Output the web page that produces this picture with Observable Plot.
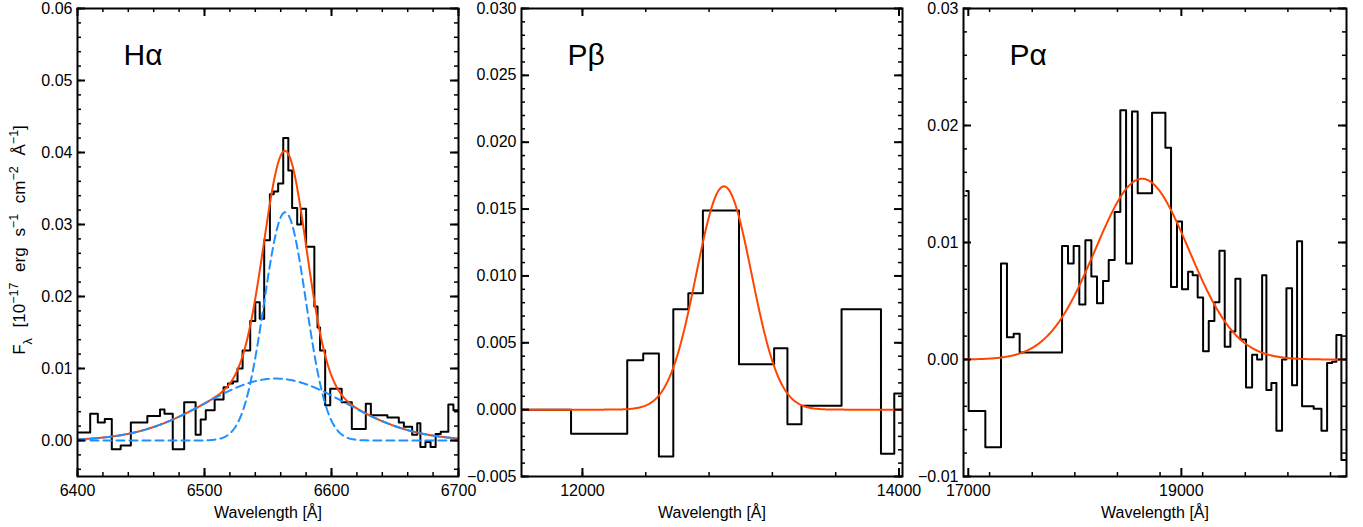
<!DOCTYPE html>
<html><head><meta charset="utf-8">
<script src="https://cdn.jsdelivr.net/npm/d3@7"></script>
<script src="https://cdn.jsdelivr.net/npm/@observablehq/plot@0.6"></script>
<style>
body{margin:0;background:#fff;}
#wrap{position:relative;width:1363px;height:527px;}
#wrap svg{position:absolute;top:0;}
</style></head><body><div id="wrap"></div>
<script>
// ---------------- data ----------------
// H-alpha panel: histogram bin edges (Å) and flux values
const haEdges = [6401, 6410, 6416, 6421.5, 6427, 6434, 6442, 6455, 6465, 6468.5, 6475, 6484, 6493, 6497, 6501, 6508, 6515, 6518.5, 6522.5, 6526, 6530, 6536, 6540, 6543.5, 6547, 6551.5, 6554.5, 6558, 6562, 6566, 6569, 6573, 6576, 6580, 6586.5, 6589, 6591, 6595, 6599, 6608, 6616, 6627, 6631, 6644, 6653, 6657, 6663.5, 6667.5, 6670, 6674, 6678, 6682, 6686, 6692, 6696, 6700];
const haFlux = [0.0011, 0.0037, 0.0025, 0.0030, -0.0012, -0.0007, 0.0025, 0.0034, 0.0043, 0.0037, -0.0012, 0.0053, 0.0008, 0.0029, 0.0042, 0.0057, 0.0074, 0.0079, 0.0082, 0.0100, 0.0125, 0.0166, 0.0192, 0.0169, 0.0278, 0.0342, 0.0346, 0.0357, 0.0420, 0.0375, 0.0323, 0.0300, 0.0322, 0.0269, 0.0186, 0.0157, 0.0125, 0.0049, 0.0072, 0.0053, 0.0016, 0.0051, 0.0035, 0.0032, 0.0025, 0.0019, 0.0008, 0.0024, -0.0009, -0.0002, -0.0009, 0.0009, 0.0012, 0.0050, 0.0042];
// H-alpha Gaussian fit components (narrow, broad)
const haFitCenter = [6563.5, 6556];
const haFitAmp = [0.0317, 0.0086];
const haFitSigma = [16.5, 55];

// P-beta panel
const pbEdges = [11618, 11928, 12283, 12384, 12483, 12574, 12669, 12761, 12989, 13211, 13295, 13384, 13637, 13886, 13970, 14023];
const pbFlux = [0.0000, -0.0018, 0.0037, 0.0042, -0.0035, 0.0075, 0.0087, 0.0149, 0.0034, 0.0046, -0.0011, 0.0003, 0.0075, -0.0033, 0.0012];
const pbFitCenter = [12894];
const pbFitAmp = [0.0167];
const pbFitSigma = [175];

// P-alpha panel
const paEdges = [16981, 17003, 17160, 17307, 17363, 17426, 17482, 17880, 17936, 17989, 18042, 18099, 18155, 18208, 18265, 18318, 18374, 18427, 18481, 18537, 18590, 18725, 18850, 18903, 18959, 19006, 19063, 19106, 19153, 19204, 19257, 19310, 19357, 19407, 19460, 19507, 19554, 19607, 19664, 19711, 19758, 19798, 19845, 19892, 19945, 19986, 20039, 20086, 20133, 20242, 20315, 20368, 20415, 20455, 20502, 20540];
const paFlux = [0.0144, -0.0044, -0.0075, 0.0082, 0.0019, 0.0022, 0.0006, 0.0097, 0.0082, 0.0097, 0.0047, 0.0102, 0.0071, 0.0048, 0.0067, 0.0085, 0.0126, 0.0213, 0.0082, 0.0212, 0.0142, 0.0211, 0.0181, 0.0062, 0.0118, 0.0060, 0.0075, 0.0072, 0.0053, 0.0007, 0.0033, 0.0049, 0.0093, 0.0011, 0.0024, 0.0069, 0.0017, -0.0024, 0.0004, 0.0000, 0.0072, -0.0026, -0.0020, -0.0061, 0.0000, 0.0061, -0.0022, 0.0101, -0.0040, -0.0042, -0.0061, -0.0003, -0.0002, 0.0021, -0.0086];
const paFitCenter = [18631];
const paFitAmp = [0.01545];
const paFitSigma = [440];

// axis tick labels
const haXTicks = [6400, 6500, 6600, 6700];
const haYTicks = [0.00, 0.01, 0.02, 0.03, 0.04, 0.05, 0.06];
const pbXTicks = [12000, 14000];
const pbYTicks = [-0.005, 0.000, 0.005, 0.010, 0.015, 0.020, 0.025, 0.030];
const paXTicks = [17000, 19000];
const paYTicks = [-0.01, 0.00, 0.01, 0.02, 0.03];

const panelLabels = ["H\u03b1", "P\u03b2", "P\u03b1"];
const xTitle = "Wavelength [\u00c5]";

// ---------------- drawing ----------------
const FONT = '"Liberation Sans", Arial, Helvetica, sans-serif';
const H = 527, MT = 8, MB = 51, FH = H - MT - MB;
const ORANGE = "#ff4500", BLUE = "#1e90ff";

function steps(edges, flux) {
  return edges.map((e, i) => ({x: e, y: flux[Math.min(i, flux.length - 1)]}));
}
function gaussCurve(domain, centers, amps, sigmas, idx) {
  const n = 500, out = [];
  for (let i = 0; i <= n; i++) {
    const x = domain[0] + (domain[1] - domain[0]) * i / n;
    let y = 0;
    for (const k of idx) y += amps[k] * Math.exp(-((x - centers[k]) ** 2) / (2 * sigmas[k] ** 2));
    out.push({x, y});
  }
  return out;
}
function minorTicks(domain, step) {
  const lo = Math.ceil(domain[0] / step - 1e-6), hi = Math.floor(domain[1] / step + 1e-6);
  return d3.range(lo, hi + 1).map(k => +(k * step).toFixed(6));
}

function panel(o) {
  const fw = o.width - o.ml - o.mr;
  const tm = [];
  const xMin = minorTicks(o.xDomain, o.xStep), yMin = minorTicks(o.yDomain, o.yStep);
  for (const [vals, len, sw] of [[o.xTicks, 8, 2], [xMin, 4, 1.5]]) {
    tm.push(Plot.tickX(vals, {x: d => d, insetTop: FH - len, stroke: "black", strokeWidth: sw}));
    tm.push(Plot.tickX(vals, {x: d => d, insetBottom: FH - len, stroke: "black", strokeWidth: sw}));
  }
  for (const [vals, len, sw] of [[o.yTicks, 8, 2], [yMin, 4, 1.5]]) {
    tm.push(Plot.tickY(vals, {y: d => d, insetRight: fw - len, stroke: "black", strokeWidth: sw}));
    tm.push(Plot.tickY(vals, {y: d => d, insetLeft: fw - len, stroke: "black", strokeWidth: sw}));
  }
  const svg = Plot.plot({
    width: o.width, height: H,
    marginLeft: o.ml, marginRight: o.mr, marginTop: MT, marginBottom: MB,
    x: {domain: o.xDomain, label: null},
    y: {domain: o.yDomain, label: null},
    style: {fontFamily: FONT, fontSize: "16px", color: "black", background: "transparent", overflow: "visible"},
    marks: [
      ...o.marks,
      ...tm,
      Plot.frame({stroke: "black", strokeWidth: 2}),
      Plot.axisX(o.xTicks, {anchor: "bottom", tickSize: 0, tickPadding: 8, tickFormat: d => String(d), label: null, fontSize: 16}),
      Plot.axisY(o.yTicks, {anchor: "left", tickSize: 0, tickPadding: 5, tickFormat: o.yFmt, label: null, fontSize: 16}),
      Plot.text([o.label], {text: d => d, frameAnchor: "top-left", dx: 46, dy: 35, lineAnchor: "top", textAnchor: "start", fontSize: 30}),
      Plot.text([xTitle], {text: d => d, frameAnchor: "bottom", dy: 36, lineAnchor: "middle", fontSize: 16})
    ]
  });
  svg.style.left = o.left + "px";
  return svg;
}

const wrap = document.getElementById("wrap");
const lineOpts = {x: "x", y: "y", clip: true};

const haDom = [6400, 6700];
wrap.appendChild(panel({
  left: 0, width: 460, ml: 77, mr: 2,
  xDomain: haDom, yDomain: [-0.005, 0.06], xTicks: haXTicks, yTicks: haYTicks,
  xStep: 20, yStep: 0.002, yFmt: d3.format(".2f"), label: panelLabels[0],
  marks: [
    Plot.line(steps(haEdges, haFlux), {...lineOpts, curve: "step-after", stroke: "black", strokeWidth: 2}),
    Plot.line(gaussCurve(haDom, haFitCenter, haFitAmp, haFitSigma, [0, 1]), {...lineOpts, stroke: ORANGE, strokeWidth: 2}),
    Plot.line(gaussCurve(haDom, haFitCenter, haFitAmp, haFitSigma, [0]), {...lineOpts, stroke: BLUE, strokeWidth: 2, strokeDasharray: "8,5"}),
    Plot.line(gaussCurve(haDom, haFitCenter, haFitAmp, haFitSigma, [1]), {...lineOpts, stroke: BLUE, strokeWidth: 2, strokeDasharray: "8,5"})
  ]
}));

const pbDom = [11615, 14022];
wrap.appendChild(panel({
  left: 460, width: 445, ml: 61, mr: 3,
  xDomain: pbDom, yDomain: [-0.005, 0.03], xTicks: pbXTicks, yTicks: pbYTicks,
  xStep: 400, yStep: 0.001, yFmt: d3.format(".3f"), label: panelLabels[1],
  marks: [
    Plot.line(steps(pbEdges, pbFlux), {...lineOpts, curve: "step-after", stroke: "black", strokeWidth: 2}),
    Plot.line(gaussCurve(pbDom, pbFitCenter, pbFitAmp, pbFitSigma, [0]), {...lineOpts, stroke: ORANGE, strokeWidth: 2})
  ]
}));

const paDom = [16955, 20550];
wrap.appendChild(panel({
  left: 905, width: 458, ml: 58, mr: 17,
  xDomain: paDom, yDomain: [-0.01, 0.03], xTicks: paXTicks, yTicks: paYTicks,
  xStep: 400, yStep: 0.002, yFmt: d3.format(".2f"), label: panelLabels[2],
  marks: [
    Plot.line(steps(paEdges, paFlux), {...lineOpts, curve: "step-after", stroke: "black", strokeWidth: 2}),
    Plot.line(gaussCurve(paDom, paFitCenter, paFitAmp, paFitSigma, [0]), {...lineOpts, stroke: ORANGE, strokeWidth: 2})
  ]
}));

// y-axis title (rotated, with sub/superscripts)
const ySvg = d3.create("svg").attr("width", 40).attr("height", H).style("left", "0px").style("overflow", "visible");
const t = ySvg.append("text")
  .attr("transform", "translate(25,240) rotate(-90)")
  .attr("text-anchor", "middle")
  .attr("word-spacing", "6px")
  .attr("font-family", FONT).attr("font-size", 17).attr("fill", "black");
const parts = [["F", null], ["\u03bb", "sub"], [" [10", null], ["\u221217", "super"], [" erg s", null], ["\u22121", "super"], [" cm", null], ["\u22122", "super"], [" \u00c5", null], ["\u22121", "super"], ["]", null]];
for (const [s, shift] of parts) {
  const ts = t.append("tspan").text(s);
  if (shift) ts.attr("font-size", 12.5).attr("baseline-shift", shift);
}
wrap.appendChild(ySvg.node());
</script></body></html>
